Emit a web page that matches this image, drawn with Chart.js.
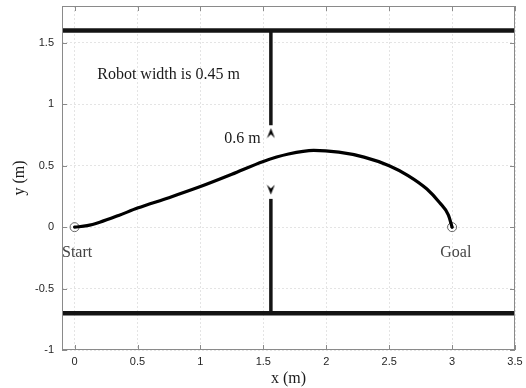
<!DOCTYPE html>
<html>
<head>
<meta charset="utf-8">
<script src="https://cdn.jsdelivr.net/npm/chart.js@4"></script>
<style>
  html, body { margin: 0; padding: 0; background: #fff; }
  #wrap { width: 526px; height: 388px; }
</style>
</head>
<body>
<div id="wrap"><canvas id="chart" width="526" height="388"></canvas></div>
<script>
// axis limits and ticks
const xLimits = [-0.1, 3.5];
const yLimits = [-1, 1.8];
const tickStep = 0.5;

// robot path (m)
const pathX = [0, 0.1, 0.2, 0.35, 0.5, 0.75, 1.0, 1.25, 1.5, 1.7, 1.9, 2.1, 2.3, 2.5, 2.65, 2.8, 2.9, 2.97, 3.0];
const pathY = [0, 0.012, 0.04, 0.095, 0.155, 0.24, 0.33, 0.43, 0.535, 0.595, 0.625, 0.61, 0.57, 0.5, 0.42, 0.31, 0.2, 0.1, 0];

// walls
const wallY = [1.6, -0.7];       // top and bottom corridor walls
const doorX = 1.56;              // the wall with the opening
const gapY = [0.23, 0.83];       // opening, 0.6 m
const arrowY = [0.765, 0.305];   // dimension arrow heads

// start / goal
const startPt = [0, 0];
const goalPt = [3, 0];

const serif = '"Liberation Serif", "Times New Roman", serif';
const sans = '"Liberation Sans", Arial, sans-serif';

// concave arrow head for the dimension marks
function arrowHead() {
  const c = document.createElement('canvas');
  c.width = 9; c.height = 11;
  const g = c.getContext('2d');
  g.fillStyle = '#000';
  g.beginPath();
  g.moveTo(4.5, 0.5);
  g.lineTo(8.5, 10.5);
  g.lineTo(4.5, 6.5);
  g.lineTo(0.5, 10.5);
  g.closePath();
  g.fill();
  return c;
}
const head = arrowHead();

const path = pathX.map((x, i) => ({ x: x, y: pathY[i] }));

const framePlugin = {
  id: 'frame',
  afterDatasetsDraw(chart) {
    const { ctx, chartArea: a, scales: { x, y } } = chart;
    ctx.save();
    ctx.strokeStyle = '#8a8a8a';
    ctx.lineWidth = 1;
    ctx.strokeRect(a.left + 0.5, a.top + 0.5, a.right - a.left - 1, a.bottom - a.top - 1);
    ctx.beginPath();
    x.ticks.forEach(t => {
      const px = Math.round(x.getPixelForValue(t.value)) + 0.5;
      ctx.moveTo(px, a.bottom); ctx.lineTo(px, a.bottom - 5);
      ctx.moveTo(px, a.top); ctx.lineTo(px, a.top + 5);
    });
    y.ticks.forEach(t => {
      const py = Math.round(y.getPixelForValue(t.value)) + 0.5;
      ctx.moveTo(a.left, py); ctx.lineTo(a.left + 5, py);
      ctx.moveTo(a.right, py); ctx.lineTo(a.right - 5, py);
    });
    ctx.stroke();

    // annotations
    ctx.font = '16px ' + serif;
    ctx.textBaseline = 'middle';
    ctx.fillStyle = '#1a1a1a';
    ctx.textAlign = 'left';
    ctx.fillText('Robot width is 0.45 m', x.getPixelForValue(0.18), y.getPixelForValue(1.24));
    ctx.textAlign = 'right';
    ctx.fillText('0.6 m', x.getPixelForValue(1.48), y.getPixelForValue(0.72));
    ctx.fillStyle = '#444';
    ctx.textAlign = 'left';
    ctx.fillText('Start', x.getPixelForValue(-0.1), y.getPixelForValue(-0.21));
    ctx.textAlign = 'center';
    ctx.fillText('Goal', x.getPixelForValue(3.03), y.getPixelForValue(-0.21));
    ctx.restore();
  }
};

new Chart(document.getElementById('chart'), {
  type: 'scatter',
  data: {
    datasets: [
      {
        data: [{ x: xLimits[0], y: wallY[0] }, { x: xLimits[1], y: wallY[0] }],
        showLine: true, borderColor: '#141414', borderWidth: 4.5, pointRadius: 0, borderCapStyle: 'butt'
      },
      {
        data: [{ x: xLimits[0], y: wallY[1] }, { x: xLimits[1], y: wallY[1] }],
        showLine: true, borderColor: '#141414', borderWidth: 4.5, pointRadius: 0, borderCapStyle: 'butt'
      },
      {
        data: [{ x: doorX, y: wallY[0] }, { x: doorX, y: gapY[1] }],
        showLine: true, borderColor: '#141414', borderWidth: 3.5, pointRadius: 0, borderCapStyle: 'butt'
      },
      {
        data: [{ x: doorX, y: wallY[1] }, { x: doorX, y: gapY[0] }],
        showLine: true, borderColor: '#141414', borderWidth: 3.5, pointRadius: 0, borderCapStyle: 'butt'
      },
      {
        data: arrowY.map(v => ({ x: doorX, y: v })),
        pointStyle: head, rotation: [0, 180], pointRadius: 5
      },
      {
        data: path,
        showLine: true, borderColor: '#000', borderWidth: 3.2, pointRadius: 0,
        cubicInterpolationMode: 'monotone', borderCapStyle: 'round'
      },
      {
        data: [{ x: startPt[0], y: startPt[1] }, { x: goalPt[0], y: goalPt[1] }],
        pointStyle: 'circle', pointRadius: 4.5, borderColor: '#666', borderWidth: 1,
        backgroundColor: 'rgba(255,255,255,0)'
      },
      {
        data: [{ x: goalPt[0], y: goalPt[1] }],
        pointStyle: 'circle', pointRadius: 1.4, borderColor: '#222', backgroundColor: '#222', borderWidth: 0
      }
    ]
  },
  options: {
    responsive: false,
    animation: false,
    layout: { padding: { top: 6, right: 11, left: 0, bottom: 0 } },
    plugins: { legend: { display: false }, tooltip: { enabled: false } },
    scales: {
      x: {
        type: 'linear',
        min: xLimits[0], max: xLimits[1],
        afterFit: s => { s.height = 38; s.paddingLeft = 0; s.paddingRight = 0; },
        ticks: {
          stepSize: tickStep, includeBounds: false, padding: 5, maxRotation: 0,
          color: '#262626', font: { family: sans, size: 11 },
          callback: v => String(v)
        },
        grid: { color: '#e4e4e4', drawTicks: false },
        border: { display: false, dash: [2, 2] },
        title: { display: true, text: 'x (m)', color: '#1a1a1a', font: { family: serif, size: 16 }, padding: 0 }
      },
      y: {
        type: 'linear',
        min: yLimits[0], max: yLimits[1],
        afterFit: s => { s.width = 62; s.paddingTop = 0; s.paddingBottom = 0; },
        ticks: {
          stepSize: tickStep, includeBounds: false, padding: 8,
          color: '#262626', font: { family: sans, size: 11 },
          callback: v => String(v)
        },
        grid: { color: '#e4e4e4', drawTicks: false },
        border: { display: false, dash: [2, 2] },
        title: { display: true, text: 'y (m)', color: '#1a1a1a', font: { family: serif, size: 16 }, padding: { top: 10, bottom: 0 } }
      }
    }
  },
  plugins: [framePlugin]
});
</script>
</body>
</html>
